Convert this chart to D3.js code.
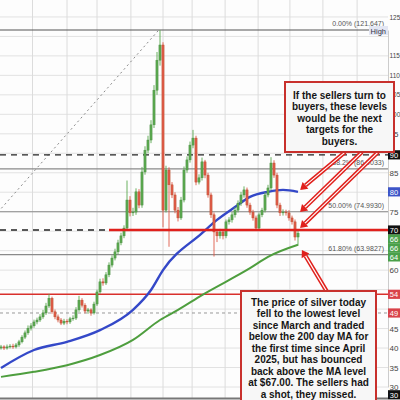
<!DOCTYPE html>
<html><head><meta charset="utf-8">
<script src="https://cdn.jsdelivr.net/npm/d3@7"></script>
<style>body{margin:0;background:#fff}svg{display:block}</style>
</head><body>
<svg id="c" width="400" height="400"></svg>
<script>
// ---- data ----
const opens = [40.0,40.3,40.0,40.3,40.5,40.3,40.8,41.6,42.8,43.9,
 45.1,45.7,46.7,47.2,48.0,49.0,50.8,52.8,49.3,48.0,
 47.2,46.4,46.9,46.7,47.5,47.7,49.8,52.3,51.0,49.5,
 49.8,49.0,51.3,54.4,57.0,56.7,58.8,61.3,63.1,64.7,
 67.0,68.8,70.8,78.0,74.7,74.9,80.1,76.7,85.2,90.8,
 93.4,97.3,106.2,113.9,117.8,75.4,85.7,81.9,79.3,75.4,
 73.4,78.0,85.7,88.3,92.1,93.9,82.6,83.7,87.8,84.4,
 79.3,74.2,69.8,68.8,69.8,68.8,72.4,72.9,74.2,75.4,
 77.2,79.3,80.6,76.7,74.9,73.4,70.8,74.2,75.4,79.3,
 81.1,87.5,84.4,76.7,74.7,74.9,74.7,73.4,72.4,68.5];
const closes = [40.3,40.0,40.3,40.5,40.3,40.8,41.6,42.8,43.9,45.1,
 45.7,46.7,47.2,48.0,49.0,50.8,52.8,49.3,48.0,47.2,
 46.4,46.9,46.7,47.5,47.7,49.8,52.3,51.0,49.5,49.8,
 49.0,51.3,54.4,57.0,56.7,58.8,61.3,63.1,64.7,67.0,
 68.8,70.8,78.0,74.7,74.9,80.1,76.7,85.2,90.8,93.4,
 97.3,106.2,113.9,117.8,75.4,85.7,81.9,79.3,75.4,73.4,
 78.0,85.7,88.3,92.1,93.9,82.6,83.7,87.8,84.4,79.3,
 74.2,69.8,68.8,69.8,68.8,72.4,72.9,74.2,75.4,77.2,
 79.3,80.6,76.7,74.9,73.4,70.8,74.2,75.4,79.3,81.1,
 87.5,84.4,76.7,74.7,74.9,74.7,73.4,72.4,68.5,69.5];
const highs = [40.8,40.7,40.9,41.0,41.1,41.3,42.1,43.3,44.5,45.8,
 46.4,47.3,47.8,48.7,49.8,51.6,53.9,53.2,49.9,48.6,
 47.7,47.5,47.4,48.0,48.4,50.5,53.4,52.8,51.5,50.3,
 50.2,51.9,55.0,57.8,57.9,59.5,62.0,63.8,65.5,67.8,
 69.6,71.5,83.0,79.0,76.0,81.0,80.8,86.5,91.8,94.5,
 98.5,107.5,116.0,121.6,118.5,86.8,86.4,82.6,80.0,76.2,
 78.8,86.6,89.2,93.0,96.0,94.5,84.6,88.9,88.3,85.0,
 79.9,74.8,70.4,70.6,70.3,73.0,73.6,74.9,76.2,77.9,
 80.1,81.5,81.2,77.3,75.5,74.0,74.8,76.0,80.0,81.9,
 89.0,88.2,85.0,77.3,75.6,75.5,75.4,74.0,73.0,70.2];
const lows = [39.6,39.5,39.6,39.9,39.8,39.9,40.3,41.2,42.3,43.4,
 44.5,45.2,46.1,46.7,47.5,48.5,50.3,48.8,47.4,46.6,
 45.9,45.9,46.1,46.2,47.0,47.2,49.3,50.4,48.9,48.8,
 48.3,48.6,50.8,53.9,56.0,56.2,58.2,60.7,62.5,64.1,
 66.4,68.2,70.2,73.8,73.9,74.2,75.9,76.0,84.5,90.0,
 92.6,96.5,105.0,112.5,71.0,74.8,66.0,78.5,74.6,72.5,
 72.9,77.4,85.0,87.6,91.3,81.8,82.0,83.0,83.6,78.6,
 73.4,63.5,67.2,68.1,67.9,68.2,71.7,72.2,73.5,74.8,
 76.5,78.6,76.0,74.2,72.7,70.1,70.2,73.6,74.8,78.7,
 80.5,83.7,75.9,73.9,74.0,74.0,72.7,71.7,67.6,66.3];

const ma100Idx = [0, 11, 22, 33, 44, 50, 54, 67, 72, 78, 83, 89, 94, 99];
const ma100Val = [34.9, 39.5, 41.6, 44.6, 49.8, 54.9, 60.0, 69.5, 72.9, 76.2, 78.8, 80.1, 80.6, 80.1];
const ma200Idx = [0, 11, 22, 33, 44, 53, 59, 67, 83, 89, 99];
const ma200Val = [32.6, 33.9, 35.6, 38.2, 42.1, 47.2, 49.8, 53.6, 60.5, 63.4, 66.5];

const fibPct = ["0.00%", "38.2%", "50.00%", "61.80%"];
const fibVal = [121.647, 86.0033, 74.993, 63.9827];
const yTicks = [30,35,40,45,60,75,85,95,100,105,110,115,125];
const gridPrices = [30,35,40,45,50,55,60,65,70,75,80,85,90,95,100,105,110,115,120,125];
const vGridIdx = [10.5, 22, 32, 43.3, 54, 63.7, 74.7, 85.7, 96.3, 107.3, 118.7];

const supportLevel = 70.3;   // red line
const dashedLevel = 89.6;
const lowRedLevel = 53.8;
const grayDashLevel = 49.0;
const fibLowIdx = -1, fibLowPrice = 74.9, fibHighIdx = 52.6;

const axisBoxes = [
  {v: 89.6, label: "90", color: "#111"},
  {v: 80.1, label: "80", color: "#3d55c8"},
  {v: 70.3, label: "70", color: "#111"},
  {v: 68.0, label: "66", color: "#4aa04a"},
  {v: 65.7, label: "66", color: "#4aa04a"},
  {v: 63.4, label: "64", color: "#4aa04a"},
  {v: 53.8, label: "54", color: "#d9434a"},
  {v: 49.0, label: "49", color: "#d9434a"},
  {v: 28.0, label: "30", color: "#111"}
];

const topNote = ["If the sellers turn to","buyers, these levels","would be the next","targets for the","buyers."];
const bottomNote = ["The price of silver today","fell to the lowest level","since March and traded","below the 200 day MA for","the first time since April","2025, but has bounced","back above the MA level","at $67.00. The sellers had","a shot, they missed."];

// arrows: [fromIdx, fromPrice, toIdx, toPrice]
const arrowsIdx = [[114.7, 90.3, 99.7, 80.6],[120.3, 90.3, 99.7, 74.9],[125.7, 90.3, 99.7, 70.8],[108.7, 54.4, 100.3, 65.2]];

// ---- drawing ----
const svg = d3.select("#c");
const x = d3.scaleLinear().domain([0, 129]).range([1, 388]);
const y = d3.scaleLinear().domain([30, 121.647]).range([387, 30]);
const X0 = 0, X1 = 388;
const FONT = "Liberation Sans, Arial, sans-serif";

svg.append("rect").attr("width",400).attr("height",400).attr("fill","#fdfdfd");

// grid
svg.append("g").selectAll("line").data(gridPrices).join("line")
  .attr("x1",X0).attr("x2",X1).attr("y1",d=>y(d)).attr("y2",d=>y(d))
  .attr("stroke","#e2e2e2").attr("stroke-width",1);
svg.append("g").selectAll("line").data(vGridIdx).join("line")
  .attr("x1",d=>x(d)).attr("x2",d=>x(d)).attr("y1",0).attr("y2",398)
  .attr("stroke","#dcdcdc").attr("stroke-width",1);

// fib lines
svg.append("g").selectAll("line").data(fibVal).join("line")
  .attr("x1",X0).attr("x2",X1).attr("y1",d=>y(d)).attr("y2",d=>y(d))
  .attr("stroke",(d,i)=>i===0?"#555":"#8a8a8a").attr("stroke-width",1.2);
// fib diagonal
svg.append("line").attr("x1",x(fibLowIdx)).attr("y1",y(fibLowPrice)).attr("x2",x(fibHighIdx)).attr("y2",y(fibVal[0]))
  .attr("stroke","#8a8a8a").attr("stroke-width",1).attr("stroke-dasharray","2,3");

// fib labels
svg.append("g").selectAll("text").data(fibVal).join("text")
  .attr("x",384).attr("y",d=>y(d)-4).attr("text-anchor","end")
  .attr("font-family",FONT).attr("font-size",7)
  .attr("fill","#555").text((d,i)=>fibPct[i]+" ("+d.toFixed(i===0?3:4)+")");
svg.append("rect").attr("x",369).attr("y",y(fibVal[0])-4).attr("width",19).attr("height",9).attr("fill","#e3e6f3");
svg.append("text").attr("x",386).attr("y",y(fibVal[0])+3.5).attr("text-anchor","end")
  .attr("font-family",FONT).attr("font-size",7.5).attr("fill","#334").text("High");

// levels
svg.append("line").attr("x1",X0).attr("x2",X1).attr("y1",y(dashedLevel)).attr("y2",y(dashedLevel))
  .attr("stroke","#222").attr("stroke-width",1.4).attr("stroke-dasharray","6,5");
svg.append("line").attr("x1",X0).attr("x2",x(36)).attr("y1",y(supportLevel)).attr("y2",y(supportLevel))
  .attr("stroke","#222").attr("stroke-width",1.4).attr("stroke-dasharray","6,5");
svg.append("line").attr("x1",X0).attr("x2",X1).attr("y1",y(grayDashLevel)).attr("y2",y(grayDashLevel))
  .attr("stroke","#999").attr("stroke-width",1).attr("stroke-dasharray","3,3");
svg.append("line").attr("x1",X0).attr("x2",X1).attr("y1",y(lowRedLevel)).attr("y2",y(lowRedLevel))
  .attr("stroke","#d9302c").attr("stroke-width",1.6);

// moving averages
const line = d3.line().curve(d3.curveMonotoneX).x(d=>x(d[0])).y(d=>y(d[1]));
svg.append("path").attr("d",line(ma200Idx.map((d,i)=>[d,ma200Val[i]])))
  .attr("fill","none").attr("stroke","#4e9e3e").attr("stroke-width",2);
svg.append("path").attr("d",line(ma100Idx.map((d,i)=>[d,ma100Val[i]])))
  .attr("fill","none").attr("stroke","#3448c8").attr("stroke-width",2.4);

// candles
const cg = svg.append("g");
const up = "#5aa84f", dn = "#de5a48";
closes.forEach((c,i)=>{
  const o = opens[i], col = c>=o?up:dn;
  cg.append("line").attr("x1",x(i)).attr("x2",x(i)).attr("y1",y(highs[i])).attr("y2",y(lows[i]))
    .attr("stroke",col).attr("stroke-width",0.9);
  const top = y(Math.max(o,c)), bot = y(Math.min(o,c));
  cg.append("rect").attr("x",x(i)-1.1).attr("width",2.2).attr("y",top).attr("height",Math.max(0.8,bot-top))
    .attr("fill",col).attr("stroke",c>=o?"#4a8a42":"#b5522e").attr("stroke-width",0.4);
});

// red support line (on top)
svg.append("line").attr("x1",x(36)).attr("x2",X1).attr("y1",y(supportLevel)).attr("y2",y(supportLevel))
  .attr("stroke","#e0201c").attr("stroke-width",2.4);

// axis
const ax = svg.append("g").attr("transform",`translate(${X1},0)`)
  .call(d3.axisRight(y).tickValues(yTicks).tickSize(0).tickPadding(1.5).tickFormat(d=>String(d)));
ax.select(".domain").attr("stroke","#ccc");
ax.selectAll("text").attr("font-family",FONT).attr("font-size",d=>d>=100?6.5:8).attr("fill","#444");

// axis boxes
const bx = svg.append("g").selectAll("g").data(axisBoxes).join("g")
  .attr("transform",d=>`translate(${X1},${y(d.v)})`);
bx.append("rect").attr("x",0).attr("y",-4.6).attr("width",12).attr("height",9.2).attr("fill",d=>d.color);
bx.append("text").attr("x",1.8).attr("y",2.8).attr("font-family",FONT)
  .attr("font-size",7.5).attr("fill","#fff").text(d=>d.label);

// bottom strip
svg.append("line").attr("x1",0).attr("x2",388).attr("y1",398.5).attr("y2",398.5).attr("stroke","#777").attr("stroke-width",2);

// arrows
function arrow(g, a){
  const x1=x(a[0]), y1=y(a[1]), x2=x(a[2]), y2=y(a[3]);
  const ang = Math.atan2(y2-y1,x2-x1), L=7;
  const bxp = x2 - Math.cos(ang)*L, byp = y2 - Math.sin(ang)*L;
  g.append("line").attr("x1",x1).attr("y1",y1).attr("x2",bxp).attr("y2",byp).attr("stroke","#e0201c").attr("stroke-width",4.2);
  g.append("line").attr("x1",x1).attr("y1",y1).attr("x2",bxp).attr("y2",byp).attr("stroke","#fff").attr("stroke-width",1.2);
  const px = -Math.sin(ang)*4.5, py = Math.cos(ang)*4.5;
  g.append("path").attr("d",`M${x2},${y2}L${bxp+px},${byp+py}L${bxp-px},${byp-py}Z`).attr("fill","#e0201c");
}
const ag = svg.append("g");
arrowsIdx.forEach(a=>arrow(ag,a));

// note boxes
function note(lines, left, top, w, h, cx, firstBase){
  svg.append("rect").attr("x",left).attr("y",top).attr("width",w).attr("height",h)
    .attr("fill","#f7f7f7").attr("stroke","#c8302c").attr("stroke-width",2);
  svg.append("g").selectAll("text").data(lines).join("text")
    .attr("x",cx).attr("y",(d,i)=>firstBase+i*11.55).attr("text-anchor","middle")
    .attr("font-family",FONT).attr("font-weight","bold")
    .attr("font-size",10).attr("fill","#151515").text(d=>d);
}
note(topNote, 285, 82, 109, 70, 339.5, 98.5);
note(bottomNote, 241, 291, 135, 115, 308.5, 305.5);
</script>
</body></html>
